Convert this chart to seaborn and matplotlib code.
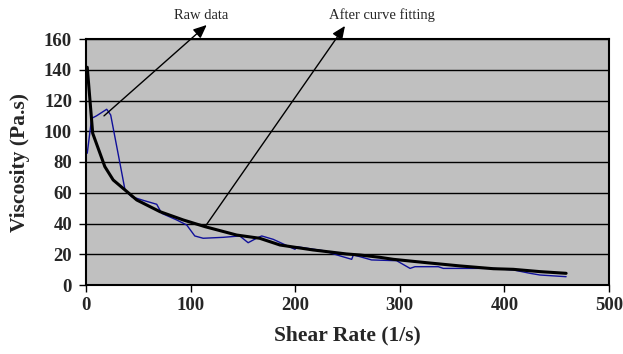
import matplotlib
matplotlib.use("Agg")
import matplotlib.pyplot as plt
import seaborn as sns
import pandas as pd

raw_x = [1.2, 5.4, 10, 19.8, 23.6, 32.5, 37.3, 43.7, 55, 67.6, 72.4, 86.7, 96.3, 104, 112, 131, 147, 155,
         163, 168, 179, 199.8, 201.4, 227, 243, 254, 255.6, 262, 273, 297, 309.8, 314.5, 336.8, 341.6,
         389.4, 408.5, 424.5, 434, 459]
raw_y = [85.7, 108.4, 110, 114.3, 110.6, 79, 61.8, 57.4, 55, 52.5, 46.6, 42.3, 39, 31.9, 30.4, 31, 31.9, 27.5,
         30.4, 31.9, 29.7, 23.2, 24.9, 22.3, 18.9, 16.7, 19.5, 18.4, 16.3, 15.8, 10.8, 11.9, 11.9, 10.8,
         10.8, 9.8, 7.6, 6.5, 5.4]

fit_x = [1.2, 6.4, 18, 26, 37.3, 48.5, 70.7, 93, 114, 144, 166, 185.5, 217, 249, 262, 281, 293.8, 325.7,
         357.6, 389.4, 408.5, 434, 459]
fit_y = [141.6, 98.7, 77, 68.3, 61.8, 55.3, 47.7, 42.3, 37.9, 32.5, 30.4, 26, 22.8, 20.2, 19.5, 18, 16.7, 14.5,
         12.4, 10.6, 10.2, 8.7, 7.6]

x_ticks = [0, 100, 200, 300, 400, 500]
y_ticks = [0, 20, 40, 60, 80, 100, 120, 140, 160]

sns.set_style("ticks")
plt.rcParams['font.family'] = ['Liberation Serif', 'DejaVu Serif']

raw_df = pd.DataFrame({"x": raw_x, "y": raw_y})
fit_df = pd.DataFrame({"x": fit_x, "y": fit_y})

fig = plt.figure(figsize=(6.23, 3.54), dpi=100)
ax = fig.add_axes([86/623, 1-285/354, (609-86)/623, (285-39)/354])
ax.set_facecolor("#C0C0C0")

sns.lineplot(data=raw_df, x="x", y="y", ax=ax, color="#10109A", linewidth=1.0, sort=False, estimator=None)
sns.lineplot(data=fit_df, x="x", y="y", ax=ax, color="black", linewidth=2.2, sort=False, estimator=None)

ax.set_xlim(0, 500)
ax.set_ylim(0, 160)
ax.set_xticks(x_ticks)
ax.set_yticks(y_ticks)
ax.set_xticklabels([str(v) for v in x_ticks], fontsize=13.5, fontweight="bold")
ax.set_yticklabels([str(v) for v in y_ticks], fontsize=13.5, fontweight="bold")
ax.yaxis.grid(True, color="black", linewidth=1.0)
ax.set_axisbelow(True)
for s in ax.spines.values():
    s.set_visible(True)
    s.set_color("black")
    s.set_linewidth(1.5)
ax.tick_params(axis="y", direction="out", length=5, width=1, color="black", pad=5)
ax.tick_params(axis="x", direction="out", length=5, width=1, color="black", pad=4)

ax.set_xlabel("Shear Rate (1/s)", fontsize=15.5, fontweight="bold", labelpad=8)
ax.set_ylabel("Viscosity (Pa.s)", fontsize=15.5, fontweight="bold", labelpad=10)

arrow = dict(arrowstyle="-|>,head_length=0.8,head_width=0.35", color="black", lw=1.0, shrinkA=0, shrinkB=0)
ax.annotate("", xy=(115.4, 169.1), xytext=(17.2, 110), arrowprops=arrow, annotation_clip=False)
ax.annotate("", xy=(247.6, 168.5), xytext=(113.8, 37.9), arrowprops=arrow, annotation_clip=False)
ax.text(110, 175.6, "Raw data", fontsize=10.5, ha="center", va="center", clip_on=False)
ax.text(283, 175.6, "After curve fitting", fontsize=10.5, ha="center", va="center", clip_on=False)

fig.savefig("out.png", dpi=100, facecolor="white")
